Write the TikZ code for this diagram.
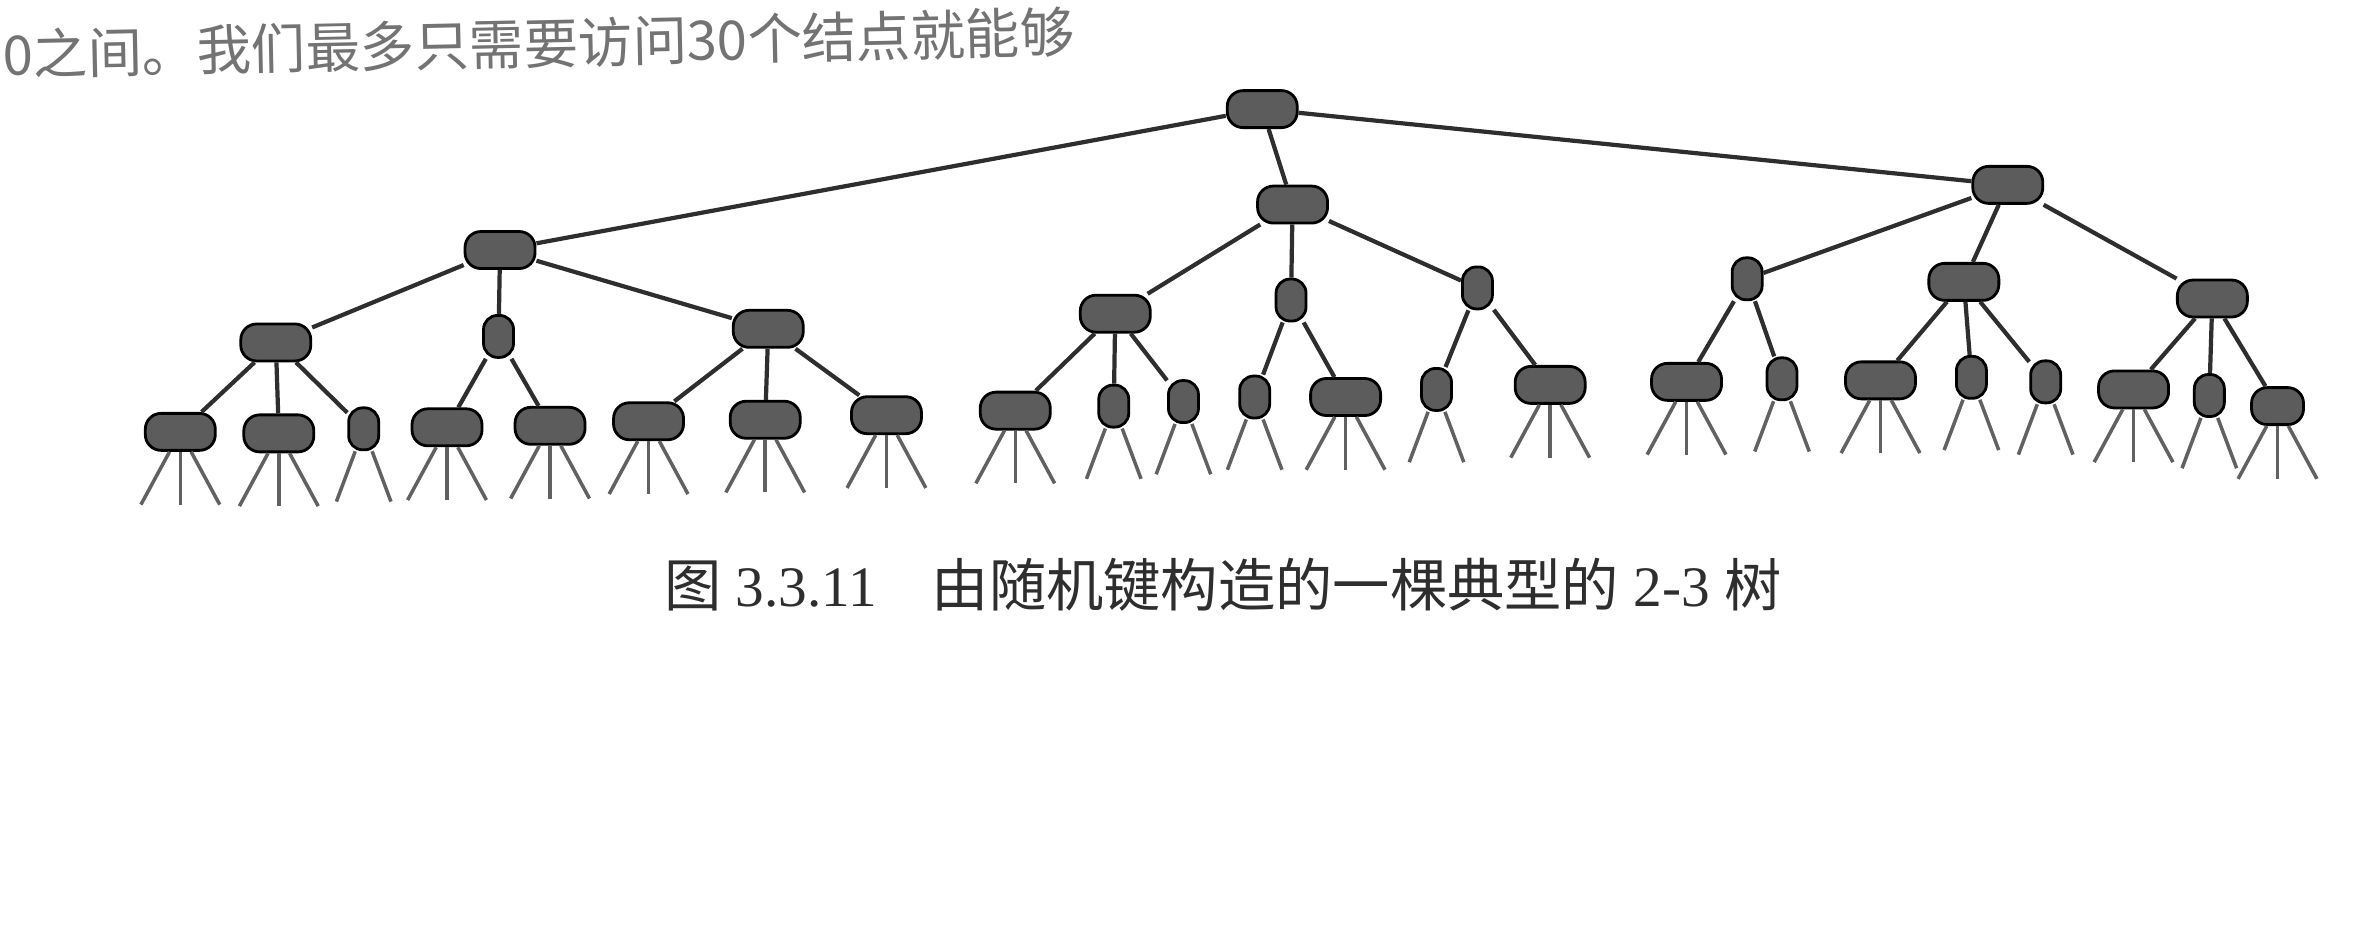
\documentclass[tikz,border=0pt]{standalone}
\usepackage{fontspec}
\setmainfont{Liberation Serif}
\newfontfamily\cjk{Noto Sans CJK SC}

\begin{document}
\begin{tikzpicture}[x=0.015153cm,y=-0.015153cm,
    knot/.style={rectangle,rounded corners=4.5pt,draw=black,line width=0.8pt,fill=black!64,
      inner sep=0pt,minimum width=0.7cm,minimum height=0.37cm},
    knottwo/.style={knot,rounded corners=4pt,minimum width=0.3cm,minimum height=0.42cm},
    link/.style={line width=1.2pt,draw=black!82},
    leg/.style={line width=1pt,draw=black!62}]
    \useasboundingbox (0,0) rectangle (1568,618);

    % page text above the figure
    \node at (-6,36) [anchor=west,rotate=1.2,text=black!55] (toptext)
      {\cjk\fontsize{15.5pt}{18pt}\selectfont 0之间。我们最多只需要访问30个结点就能够};

    % root and first level
    \node at (833,72) [knot] (r) {};
    \node at (330,165) [knot] (a) {};
    \node at (853,135) [knot] (b) {};
    \node at (1325,122) [knot] (c) {};

    % second level
    \node at (182,226) [knot] (a1) {};
    \node at (329,222) [knottwo] (a2) {};
    \node at (507,217) [knot] (a3) {};
    \node at (736,207) [knot] (b1) {};
    \node at (852,198) [knottwo] (b2) {};
    \node at (975,190) [knottwo] (b3) {};
    \node at (1153,184) [knottwo] (c1) {};
    \node at (1296,186) [knot] (c2) {};
    \node at (1460,197) [knot] (c3) {};

    % third level
    \node at (119,285) [knot] (a11) {};
    \node at (184,286) [knot] (a12) {};
    \node at (240,283) [knottwo] (a13) {};
    \node at (295,282) [knot] (a21) {};
    \node at (363,281) [knot] (a22) {};
    \node at (428,278) [knot] (a31) {};
    \node at (505,277) [knot] (a32) {};
    \node at (585,274) [knot] (a33) {};
    \node at (670,271) [knot] (b11) {};
    \node at (735,268) [knottwo] (b12) {};
    \node at (781,265) [knottwo] (b13) {};
    \node at (828,262) [knottwo] (b21) {};
    \node at (888,262) [knot] (b22) {};
    \node at (948,257) [knottwo] (b31) {};
    \node at (1023,254) [knot] (b32) {};
    \node at (1113,252) [knot] (c11) {};
    \node at (1176,250) [knottwo] (c12) {};
    \node at (1241,251) [knot] (c21) {};
    \node at (1301,249) [knottwo] (c22) {};
    \node at (1350,252) [knottwo] (c23) {};
    \node at (1408,257) [knot] (c31) {};
    \node at (1458,261) [knottwo] (c32) {};
    \node at (1503,268) [knot,minimum width=0.52cm] (c33) {};

    \draw[link] (r)--(a);
    \draw[link] (r)--(b);
    \draw[link] (r)--(c);
    \draw[link] (a)--(a1);
    \draw[link] (a)--(a2);
    \draw[link] (a)--(a3);
    \draw[link] (b)--(b1);
    \draw[link] (b)--(b2);
    \draw[link] (b)--(b3);
    \draw[link] (c)--(c1);
    \draw[link] (c)--(c2);
    \draw[link] (c)--(c3);
    \draw[link] (a1)--(a11);
    \draw[link] (a1)--(a12);
    \draw[link] (a1)--(a13);
    \draw[link] (a2)--(a21);
    \draw[link] (a2)--(a22);
    \draw[link] (a3)--(a31);
    \draw[link] (a3)--(a32);
    \draw[link] (a3)--(a33);
    \draw[link] (b1)--(b11);
    \draw[link] (b1)--(b12);
    \draw[link] (b1)--(b13);
    \draw[link] (b2)--(b21);
    \draw[link] (b2)--(b22);
    \draw[link] (b3)--(b31);
    \draw[link] (b3)--(b32);
    \draw[link] (c1)--(c11);
    \draw[link] (c1)--(c12);
    \draw[link] (c2)--(c21);
    \draw[link] (c2)--(c22);
    \draw[link] (c2)--(c23);
    \draw[link] (c3)--(c31);
    \draw[link] (c3)--(c32);
    \draw[link] (c3)--(c33);

    % empty links below the leaves
    \foreach \n in {a11,a12,a21,a22,a31,a32,a33,b11,b22,b32,c11,c21,c31,c33}
      \foreach \d/\s in {-1/l,0/m,1/r} {
        \path (\n) ++(\d*26,48) coordinate (\n\s);
        \draw[leg] (\n)--(\n\s);
      }
    \foreach \n in {a13,b12,b13,b21,b31,c12,c22,c23,c32}
      \foreach \d/\s in {-1/l,1/r} {
        \path (\n) ++(\d*18,48) coordinate (\n\s);
        \draw[leg] (\n)--(\n\s);
      }

    % caption
    \node at (430,386) [anchor=west,text=black!82] (caption)
      {\fontsize{16.3pt}{19pt}\selectfont{\cjk 图} 3.3.11\hspace{0.55cm}{\cjk 由随机键构造的一棵典型的} 2-3 {\cjk 树}};
\end{tikzpicture}
\end{document}
